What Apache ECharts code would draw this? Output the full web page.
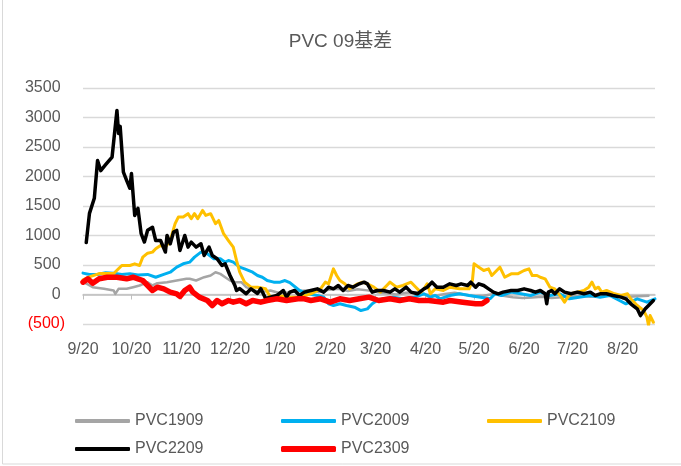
<!DOCTYPE html>
<html>
<head>
<meta charset="utf-8">
<script src="https://cdn.jsdelivr.net/npm/echarts@6/dist/echarts.min.js"></script>
<style>
html,body{margin:0;padding:0;background:#fff;}
#c{width:681px;height:466px;}
</style>
</head>
<body>
<div id="c"></div>
<script>
// ---- data (x = days since 9/20) ----
const seriesNames = ['PVC1909', 'PVC2009', 'PVC2109', 'PVC2209', 'PVC2309'];
const tickLabels = ['9/20','10/20','11/20','12/20','1/20','2/20','3/20','4/20','5/20','6/20','7/20','8/20'];
const tickDays = [0,30,61,91,122,153,181,212,242,273,303,334];
const yTicks = [-500,0,500,1000,1500,2000,2500,3000,3500];

const day1909 = [0,3,6,13,19,20,22,27,31,35,40,43,46,52,58,64,66,70,75,79,82,85,88,91,94,98,101,106,110,116,122,128,134,140,146,152,158,164,170,176,182,188,194,200,206,212,218,224,230,236,242,248,254,260,266,272,278,284,290,296,302,308,314,320,326,332,338,344,350];
const val1909 = [209,170,124,96,68,10,96,96,124,153,209,153,192,209,237,266,266,237,293,322,378,350,293,237,209,209,124,68,40,68,22,40,60,70,40,80,96,60,90,70,40,20,0,30,40,0,-20,10,30,0,-30,-20,10,-20,-45,-60,-50,-40,-60,-45,-30,-20,-40,-30,-10,-20,-40,-30,-20];

const day2009 = [0,4,9,14,19,24,29,34,40,45,50,54,58,62,66,69,73,77,81,85,88,90,93,97,100,105,108,111,114,118,122,125,128,134,139,145,149,152,155,159,163,168,172,176,179,182,186,192,198,205,208,211,215,218,221,227,233,239,246,252,255,259,265,271,277,283,289,295,301,307,314,320,326,332,336,343,349,354];
const val2009 = [362,340,340,370,362,340,350,330,340,293,340,378,463,520,548,633,718,690,605,605,548,577,548,463,435,378,322,293,237,209,209,237,200,68,12,-17,-45,-158,-187,-158,-187,-215,-272,-243,-158,-102,-73,-45,-73,-45,-17,12,-45,-17,-73,-17,12,-17,-45,-73,12,-17,40,12,-17,40,-17,12,-73,-45,-17,-45,-17,-102,-158,-73,-130,-73];

const day2109 = [0,4,10,19,24,29,32,35,37,40,43,45,48,51,54,57,59,62,65,67,69,71,74,76,79,82,84,87,90,93,95,97,100,104,108,113,116,120,125,128,134,141,147,150,152,155,157,159,162,165,170,173,176,180,184,188,190,194,198,203,206,209,211,213,215,218,223,227,233,239,241,242,245,248,251,253,255,258,261,265,269,273,276,278,281,283,286,289,292,296,298,300,302,306,310,313,315,317,319,321,324,329,333,337,339,343,347,349,350,351,353];
const val2109 = [250,300,355,355,492,492,520,492,633,700,718,775,830,803,915,1200,1312,1312,1370,1285,1370,1285,1425,1340,1370,1200,1255,1030,915,803,577,378,209,124,124,96,-45,-20,-30,-45,-45,12,96,209,181,435,322,237,181,96,181,209,181,124,40,153,209,124,153,209,124,40,96,181,12,96,68,124,96,96,237,520,463,407,435,322,378,463,293,350,350,407,435,322,322,293,266,124,96,-45,-130,-45,12,40,68,124,209,96,124,40,68,12,-17,12,-73,-187,-272,-385,-526,-357,-470];

const day2209 = [2,4,7,9,11,14,18,21,22,23,25,27,29,30,32,34,36,38,40,43,45,48,51,52,54,56,58,60,63,65,67,70,73,75,78,80,83,86,88,91,94,95,97,101,104,108,110,113,116,120,124,126,128,131,134,137,141,145,149,152,155,158,161,164,167,171,174,176,179,182,186,190,193,196,200,203,207,211,213,216,219,223,227,231,234,238,240,243,245,248,251,254,257,260,265,269,273,277,280,283,286,287,288,290,292,295,298,302,306,310,314,317,320,324,328,333,336,339,343,345,348,350,353];
const val2209 = [880,1375,1630,2270,2100,2200,2330,3120,2730,2850,2075,1935,1800,2050,1340,1460,1030,890,1090,1140,915,915,720,1000,860,1057,1086,745,1000,803,888,803,860,662,803,662,605,492,520,322,153,68,100,12,96,17,100,-68,-45,-17,68,-45,40,68,-17,40,68,96,40,124,96,153,68,153,124,181,209,181,40,68,68,40,96,40,124,40,12,96,124,209,124,124,181,153,181,153,209,124,181,153,96,40,12,40,68,68,96,68,40,68,12,-158,40,68,12,96,40,12,40,12,40,-17,12,12,-17,-45,-73,-158,-243,-357,-243,-187,-102];

const day2309 = [0,3,6,10,15,21,27,31,34,37,40,43,46,50,54,58,60,63,66,68,72,77,80,83,86,90,93,97,101,105,110,114,120,126,133,137,141,147,153,159,165,171,177,183,190,196,202,208,214,223,227,235,243,247,250];
const val2309 = [209,266,192,266,293,293,266,293,266,237,153,68,124,96,40,12,-34,68,124,40,-45,-102,-187,-102,-158,-102,-130,-102,-158,-102,-130,-102,-73,-102,-73,-73,-102,-73,-130,-73,-102,-73,-45,-102,-73,-102,-73,-102,-102,-130,-102,-130,-158,-158,-102];

// ---- chart ----
const FONT = '"Liberation Sans", "Noto Sans CJK SC", sans-serif';
const TXT = '#595959';
const colors = ['#a5a5a5', '#00b0f0', '#ffc000', '#000000', '#ff0000'];
const widths = [2.5, 3, 3, 3.5, 5.5];
const days = [day1909, day2009, day2109, day2209, day2309];
const vals = [val1909, val2009, val2109, val2209, val2309];
const pair = (d, v) => d.map((x, i) => [x, v[i]]);

const legendPos = [
  {left: 75, top: 413}, {left: 281, top: 413}, {left: 487, top: 413},
  {left: 75, top: 441}, {left: 281, top: 441}
];

const chart = echarts.init(document.getElementById('c'), null, {renderer: 'canvas'});
chart.setOption({
  animation: false,
  backgroundColor: '#fff',
  title: {
    text: 'PVC 09基差', left: 'center', top: 27,
    textStyle: {fontFamily: FONT, fontSize: 19, fontWeight: 'normal', color: TXT}
  },
  graphic: [{
    type: 'rect', silent: true, z: -10,
    shape: {x: 2.5, y: -10, width: 720, height: 474},
    style: {fill: 'none', stroke: '#d9d9d9', lineWidth: 1}
  }],
  legend: seriesNames.map((n, i) => ({
    data: [n], left: legendPos[i].left, top: legendPos[i].top,
    padding: 0,
    itemWidth: 55, itemHeight: i === 4 ? 6 : 4, icon: 'roundRect',
    selectedMode: false,
    textStyle: {fontFamily: FONT, fontSize: 16, color: TXT}
  })),
  grid: {left: 83, right: 26, top: 88, bottom: 142},
  xAxis: [{
    type: 'value', min: 0, max: 354,
    axisLine: {show: true, onZero: true, lineStyle: {color: '#bfbfbf', width: 1.5}},
    axisTick: {show: true, customValues: tickDays, length: 5, lineStyle: {color: '#bfbfbf'}},
    axisLabel: {show: false},
    splitLine: {show: false}
  }, {
    type: 'value', min: 0, max: 354, position: 'bottom',
    axisLine: {show: false, onZero: false},
    axisTick: {show: false},
    splitLine: {show: false},
    axisLabel: {
      show: true, customValues: tickDays, margin: 18,
      fontFamily: FONT, fontSize: 16, color: TXT,
      formatter: v => tickLabels[tickDays.indexOf(Math.round(v))]
    }
  }],
  yAxis: {
    type: 'value', min: yTicks[0], max: yTicks[yTicks.length - 1], interval: 500,
    axisLine: {show: false}, axisTick: {show: false},
    splitLine: {lineStyle: {color: '#d9d9d9', width: 1.3}},
    axisLabel: {
      margin: 18, fontFamily: FONT, fontSize: 16,
      color: v => (Number(v) < 0 ? '#ff0000' : TXT),
      formatter: v => (v < 0 ? '(' + (-v) + ')' : v + ' ')
    }
  },
  series: seriesNames.map((n, i) => ({
    name: n, type: 'line', xAxisIndex: 0,
    data: pair(days[i], vals[i]),
    showSymbol: false, symbol: 'none',
    color: colors[i],
    lineStyle: {color: colors[i], width: widths[i], join: 'round', cap: 'round'},
    itemStyle: {color: colors[i]},
    z: 2 + i
  }))
});
</script>
</body>
</html>
